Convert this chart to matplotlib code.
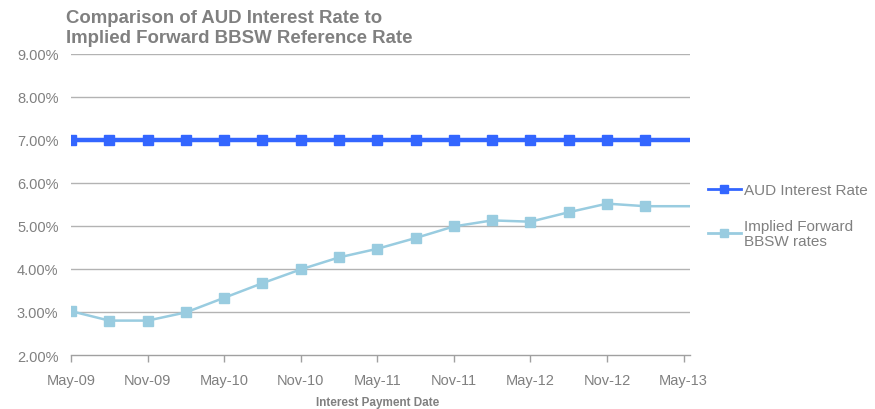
import matplotlib
matplotlib.use("Agg")
import matplotlib.pyplot as plt
from matplotlib.ticker import FuncFormatter, FixedLocator

# Months since May-09
months = [0, 3, 6, 9, 12, 15, 18, 21, 24, 27, 30, 33, 36, 39, 42, 45]
aud_rate = [7.00] * 16
bbsw_rate = [3.02, 2.80, 2.80, 2.99, 3.33, 3.67, 3.99, 4.27, 4.47, 4.72,
             4.99, 5.13, 5.10, 5.32, 5.52, 5.46]
line_end_month = 48.5
aud_end = 7.00
bbsw_end = 5.46

tick_months = [0, 6, 12, 18, 24, 30, 36, 42, 48]
tick_labels = ["May-09", "Nov-09", "May-10", "Nov-10", "May-11", "Nov-11",
               "May-12", "Nov-12", "May-13"]
y_ticks = [2, 3, 4, 5, 6, 7, 8, 9]

plt.rcParams['font.family'] = ['Liberation Sans', 'DejaVu Sans']
gray = "#808080"
aud_col = "#3366FF"
bbsw_col = "#99CCE0"

fig = plt.figure(figsize=(8.75, 4.1), dpi=100)
ax = fig.add_axes([0.0811, 0.1317, 0.7075, 0.7342])

for y in y_ticks[1:]:
    ax.axhline(y, color="#b3b3b3", lw=1.0, zorder=1)

ax.plot(months + [line_end_month], aud_rate + [aud_end], color=aud_col, lw=3.2,
        zorder=3, solid_capstyle='butt')
ax.plot(months, aud_rate, ls='none', marker='s', ms=6.5, color=aud_col, zorder=4)
ax.plot(months + [line_end_month], bbsw_rate + [bbsw_end], color=bbsw_col, lw=1.8,
        zorder=3)
ax.plot(months, bbsw_rate, ls='none', marker='s', ms=7, color=bbsw_col, zorder=4)

# legend proxies
ax.plot([], [], color=aud_col, lw=2.0, marker='s', ms=6, label="AUD Interest Rate")
ax.plot([], [], color=bbsw_col, lw=2.0, marker='s', ms=6,
        label="Implied Forward\nBBSW rates")
handles, labels = ax.get_legend_handles_labels()
leg = fig.legend(handles[-2:], labels[-2:], loc='upper left',
                 bbox_to_anchor=(0.793, 0.585), frameon=False, fontsize=11,
                 handlelength=2.2, handletextpad=0.2, labelspacing=1.45)
for t in leg.get_texts():
    t.set_color(gray)
    t.set_linespacing(1.05)

ax.set_xlim(0, line_end_month)
ax.set_ylim(2, 9)
ax.xaxis.set_major_locator(FixedLocator(tick_months))
ax.set_xticklabels(tick_labels)
ax.set_yticks(y_ticks)
ax.yaxis.set_major_formatter(FuncFormatter(lambda v, p: f"{v:.2f}%"))

for s in ['top', 'right', 'left']:
    ax.spines[s].set_visible(False)
ax.spines['bottom'].set_color("#a0a0a0")
ax.spines['bottom'].set_linewidth(1.0)
ax.tick_params(axis='x', colors="#a0a0a0", labelcolor=gray, length=5, width=1,
               pad=8, labelsize=10.5)
ax.tick_params(axis='y', length=0, labelcolor=gray, pad=9, labelsize=10.5)

fig.text(0.432, 0.018, "Interest Payment Date", ha='center', va='center',
         fontsize=8.5, fontweight='bold', color=gray)

fig.text(0.0755, 0.975, "Comparison of AUD Interest Rate to\nImplied Forward BBSW Reference Rate",
         ha='left', va='top', fontsize=13.4, fontweight='bold', color=gray,
         linespacing=1.2)

fig.savefig("out.png", dpi=100)
